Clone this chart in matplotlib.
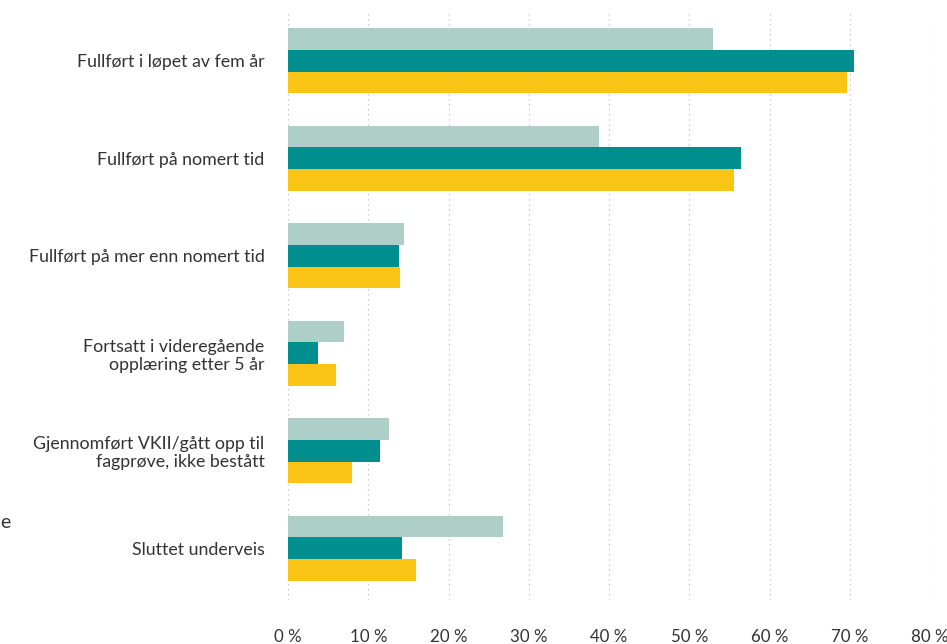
import matplotlib.pyplot as plt
import numpy as np

plt.rcParams['font.family'] = ['Lato', 'DejaVu Sans']

# Data
categories = [
    'Fullført i løpet av fem år',
    'Fullført på nomert tid',
    'Fullført på mer enn nomert tid',
    'Fortsatt i videregående\nopplæring etter 5 år',
    'Gjennomført VKII/gått opp til\nfagprøve, ikke bestått',
    'Sluttet underveis',
]
series_a = [53.0, 38.8, 14.5, 7.0, 12.6, 26.8]
series_b = [70.5, 56.5, 13.8, 3.8, 11.5, 14.2]
series_c = [69.6, 55.6, 14.0, 6.0, 8.0, 16.0]
xticks = [0, 10, 20, 30, 40, 50, 60, 70, 80]

colors = ['#aecec8', '#008e8e', '#f9c416']

fig = plt.figure(figsize=(9.47, 6.44), dpi=100)
ax = fig.add_axes([288 / 947, 1 - 600 / 644, (930 - 288) / 947, 588 / 644])

y = np.arange(len(categories))
h = 0.223
ax.barh(y - h, series_a, h, color=colors[0], zorder=2)
ax.barh(y, series_b, h, color=colors[1], zorder=2)
ax.barh(y + h, series_c, h, color=colors[2], zorder=2)

ax.set_xlim(0, 80)
ax.set_ylim(5.53, -0.5)
ax.set_xticks(xticks)
ax.set_xticklabels([f'{t} %' for t in xticks])
ax.set_yticks(y)
ax.set_yticklabels(categories, ha='right', multialignment='right', linespacing=1.15)
ax.tick_params(axis='both', length=0, labelcolor='#333333')
ax.tick_params(axis='x', pad=21, labelsize=12.2)
ax.tick_params(axis='y', pad=17, labelsize=12.8)

ax.grid(axis='x', color='#c0c0c0', linestyle=(0, (1, 3)), linewidth=0.9, zorder=0)
for s in ax.spines.values():
    s.set_visible(False)

fig.text(0.0, 1 - 522 / 644, 'e', fontsize=14, color='#333333', ha='left', va='center')

plt.savefig('out.png', dpi=100)
